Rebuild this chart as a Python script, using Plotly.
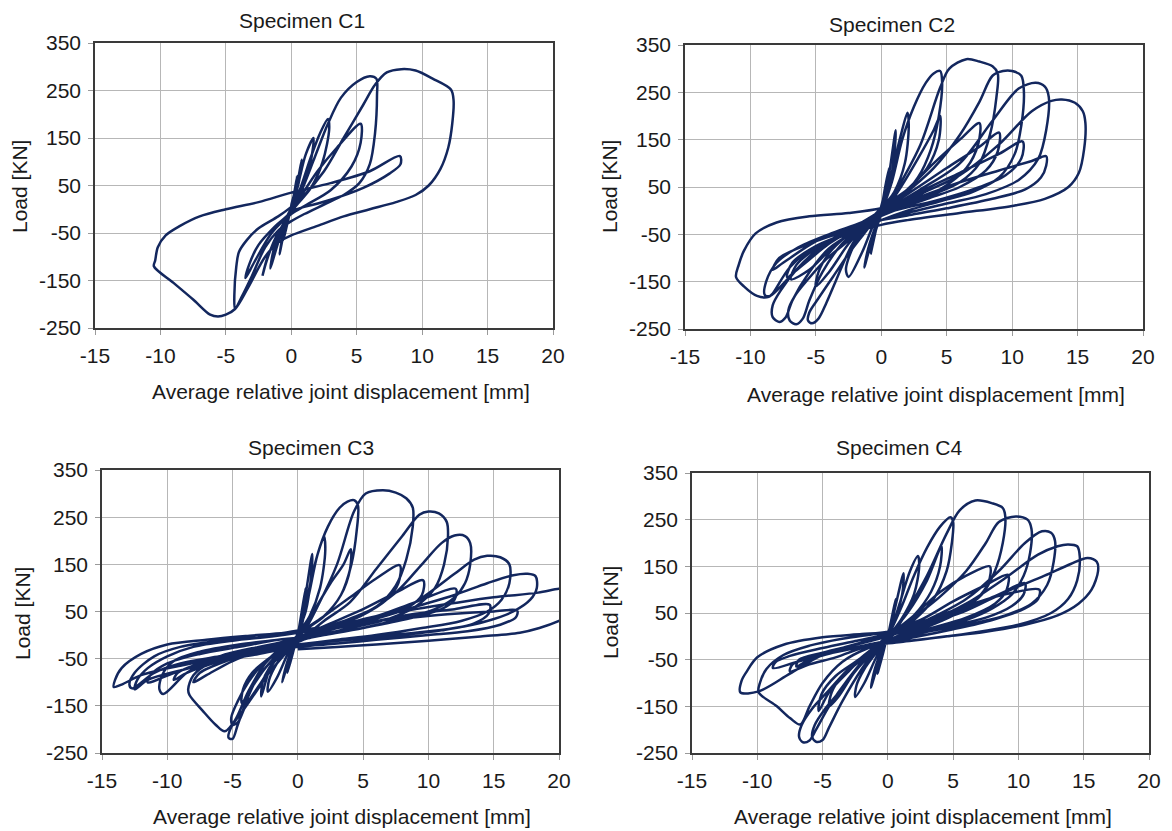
import plotly.graph_objects as go

# ---------------- data ----------------
x_ticks = [-15, -10, -5, 0, 5, 10, 15, 20]
y_ticks = [-250, -150, -50, 50, 150, 250, 350]
titles = ["Specimen C1", "Specimen C2", "Specimen C3", "Specimen C4"]
x_title = "Average relative joint displacement [mm]"
y_title = "Load [KN]"

# (displacement [mm], load [kN]) path of each hysteresis record
c1_xy = [
    (0, 0), (0.2, 30), (0.45, 70), (0.3, 40), (0, 5), (-0.3, -30), (-0.6, -65), (-0.4, -30), (0, 0),
    (0.4, 45), (0.8, 105), (0.6, 60), (0.1, 10), (-0.4, -30), (-0.9, -95), (-0.6, -50), (-0.1, -5),
    (0.5, 50), (1.1, 115), (1.7, 150), (1.4, 90), (0.6, 30), (-0.3, -20), (-1.0, -70), (-1.6, -125),
    (-1.3, -80), (-0.5, -25),
    (0.5, 30), (1.5, 110), (2.2, 160), (2.8, 190), (2.9, 170), (2.4, 100), (1.5, 45), (0.3, 5),
    (-0.8, -40), (-1.8, -100), (-2.2, -140), (-1.9, -110), (-1.2, -60), (-0.2, -15),
    (0.8, 30), (2.0, 80), (3.5, 130), (5.3, 180), (5.3, 140), (4.6, 90), (3.0, 40), (1.2, 10), (0, -10),
    (-1.5, -50), (-2.8, -110), (-3.5, -145), (-3.2, -115), (-2.5, -75), (-1.2, -35), (0, -5),
    (0.8, 40), (1.8, 110), (2.8, 180), (3.8, 235), (5.0, 268), (6.0, 280), (6.5, 275), (6.55, 240),
    (6.4, 160), (6.0, 95), (5.2, 55), (4.0, 30), (2.5, 10), (1.0, -10), (0, -25), (-1.0, -45),
    (-2.0, -80), (-3.0, -140), (-3.8, -185), (-4.3, -210), (-4.35, -180), (-4.2, -120), (-4.0, -90),
    (-3.4, -65), (-2.5, -40), (-1.0, -15), (0, 5),
    (1.0, 30), (2.5, 80), (4.0, 150), (5.5, 220), (6.4, 262), (7.3, 288), (8.4, 295), (9.5, 292),
    (10.8, 275), (12.2, 252), (12.4, 230), (12.3, 180), (12.0, 130), (11.4, 85), (10.5, 50), (9.5, 30),
    (8.0, 15), (6.0, 0), (4.0, -15), (2.0, -35), (0, -55), (-1.0, -70), (-2.0, -100), (-3.3, -165),
    (-4.3, -210), (-5.0, -222), (-5.6, -226), (-6.2, -222), (-7.5, -190), (-9.0, -155), (-10.5, -120),
    (-10.4, -108), (-10.2, -80), (-9.6, -55), (-8.5, -35), (-7.0, -15), (-5.0, 0), (-2.5, 15), (0, 35),
    (3.0, 55), (6.0, 80), (8.3, 112), (8.35, 95), (7.5, 75), (5.5, 45), (3.0, 20), (1.0, 5), (0, 0),
]

c2_xy = [
    (0, 0), (0.3, 50), (0.6, 90), (0.4, 50), (0, 10), (-0.4, -40), (-0.8, -90), (-0.5, -50), (0, -5),
    (0.5, 60), (1.1, 170), (1.0, 120), (0.6, 50), (0, 5), (-0.6, -50), (-1.3, -120), (-1.0, -80),
    (-0.4, -30), (0.2, 10),
    (0.8, 80), (1.5, 160), (2.0, 207), (2.1, 180), (1.8, 100), (1.0, 40), (0.2, 10), (-0.6, -30),
    (-1.5, -90), (-2.5, -140), (-2.7, -125), (-2.2, -80), (-1.2, -40), (0, 0),
    (0.8, 60), (1.6, 150), (2.5, 220), (3.4, 270), (4.0, 290), (4.5, 295), (4.65, 270), (4.4, 200),
    (3.8, 130), (2.8, 70), (1.5, 30), (0, 5), (-1.0, -25), (-2.2, -70), (-3.5, -150), (-4.2, -195),
    (-4.8, -228), (-5.3, -238), (-5.6, -232), (-5.5, -215), (-4.8, -185), (-3.7, -140), (-2.6, -95),
    (-1.5, -55), (-0.5, -20), (0.5, 10),
    (1.5, 50), (2.8, 110), (4.0, 170), (4.5, 200), (4.4, 150), (3.5, 90), (2.0, 45), (0.5, 10),
    (-1.0, -25), (-2.5, -70), (-4.0, -130), (-5.0, -160), (-4.8, -130), (-4.0, -90), (-2.5, -50),
    (-0.5, -10), (0.5, 15),
    (1.5, 60), (3.0, 140), (4.5, 260), (5.2, 300), (6.5, 320), (7.5, 315), (8.5, 305), (8.9, 290),
    (8.8, 240), (8.3, 160), (7.5, 100), (6.0, 60), (4.0, 35), (2.0, 15), (0, -10), (-1.5, -35),
    (-3.0, -70), (-4.5, -130), (-5.5, -190), (-6.0, -228), (-6.5, -240), (-7.0, -232), (-7.1, -210),
    (-6.6, -180), (-5.6, -145), (-4.3, -105), (-2.8, -70), (-1.5, -40), (-0.5, -15), (0, 5),
    (2.0, 45), (4.0, 100), (6.0, 150), (7.5, 185), (7.4, 140), (6.5, 90), (4.5, 45), (2.0, 15),
    (0, -10), (-2.0, -40), (-4.0, -85), (-5.5, -125), (-6.9, -145), (-6.5, -115), (-5.0, -80),
    (-3.0, -50), (-1.0, -20), (0.5, 5),
    (2.0, 40), (4.0, 90), (6.0, 160), (7.5, 230), (8.5, 285), (9.3, 295), (10.0, 295), (10.7, 285),
    (10.9, 250), (10.7, 180), (10.2, 120), (9.0, 70), (7.0, 40), (4.5, 20), (2.0, 0), (0, -20),
    (-2.0, -45), (-4.0, -80), (-5.5, -130), (-6.8, -190), (-7.3, -225), (-7.8, -235), (-8.3, -225),
    (-8.3, -200), (-7.6, -165), (-6.5, -125), (-5.0, -85), (-3.5, -55), (-1.8, -30), (0, 0),
    (2.0, 35), (5.0, 90), (7.5, 135), (9.0, 165), (8.9, 125), (8.0, 85), (6.0, 50), (3.5, 25), (1.0, 0),
    (-1.5, -30), (-4.0, -70), (-6.0, -115), (-7.2, -140), (-6.8, -110), (-5.0, -75), (-2.5, -45), (0, -5),
    (3.0, 45), (6.0, 100), (8.5, 190), (10.5, 258), (11.8, 270), (12.5, 262), (12.8, 240), (12.6, 170),
    (12.0, 110), (10.5, 65), (8.0, 35), (5.0, 15), (2.0, -5), (0, -20), (-2.5, -45), (-5.0, -85),
    (-7.0, -140), (-8.5, -180), (-8.9, -178), (-8.8, -150), (-8.0, -110), (-6.5, -80), (-4.0, -50),
    (-1.5, -25), (0.5, 0),
    (3.0, 40), (6.0, 80), (9.0, 120), (10.8, 146), (10.7, 110), (9.5, 75), (7.0, 45), (4.0, 20), (1.0, 0),
    (-2.0, -30), (-5.0, -65), (-7.5, -110), (-8.3, -125), (-7.8, -100), (-5.5, -70), (-3.0, -45), (0, -10),
    (3.0, 35), (6.0, 75), (9.0, 140), (11.5, 210), (13.0, 232), (13.8, 235), (14.8, 228), (15.4, 210),
    (15.6, 185), (15.5, 130), (15.1, 80), (14.3, 50), (12.5, 25), (10.0, 10), (6.0, -5), (2.0, -20),
    (0, -30), (-2.5, -50), (-5.0, -75), (-7.0, -120), (-8.3, -175), (-8.6, -182), (-9.5, -180),
    (-10.5, -160), (-11.1, -140), (-10.9, -115), (-10.5, -85), (-9.6, -48), (-8.0, -25), (-5.5, -12),
    (-2.5, -5), (0, 5),
    (3.0, 30), (6.0, 60), (9.0, 85), (11.5, 105), (12.6, 115), (12.6, 95), (12.2, 70), (11.0, 45),
    (8.5, 25), (5.0, 5), (2.0, -10), (0, -20),
]

c3_xy = [
    (0, 0), (0.3, 50), (0.6, 100), (0.4, 50), (0, 5), (-0.4, -40), (-0.8, -80), (-0.5, -40), (0, 0),
    (0.5, 70), (1.1, 172), (1.0, 120), (0.6, 50), (0, 5), (-0.6, -45), (-1.2, -100), (-0.9, -65),
    (-0.3, -20), (0.2, 10),
    (0.8, 90), (1.5, 170), (2.0, 209), (2.1, 180), (1.7, 100), (0.9, 40), (0.2, 10), (-0.7, -35),
    (-1.6, -90), (-2.3, -120), (-2.2, -95), (-1.6, -60), (-0.8, -30), (0, 0),
    (0.8, 80), (1.5, 170), (2.3, 230), (3.2, 270), (3.8, 283), (4.3, 286), (4.6, 275), (4.5, 220),
    (4.1, 150), (3.3, 85), (2.0, 40), (0.5, 10), (-0.5, -15), (-1.5, -45), (-2.8, -100), (-4.0, -150),
    (-4.6, -185), (-5.0, -190), (-5.1, -175), (-4.6, -140), (-3.8, -100), (-2.8, -65), (-1.5, -35), (0, 0),
    (1.2, 50), (2.5, 110), (3.5, 150), (4.05, 182), (4.0, 140), (3.3, 85), (2.0, 40), (0.5, 10),
    (-1.0, -25), (-2.5, -70), (-3.5, -110), (-4.3, -144), (-4.2, -115), (-3.5, -80), (-2.0, -45),
    (-0.5, -15), (0.5, 10),
    (1.5, 60), (3.0, 150), (4.3, 262), (5.2, 300), (6.5, 307), (7.5, 302), (8.3, 290), (8.8, 270),
    (8.8, 230), (8.3, 160), (7.5, 105), (6.0, 60), (4.0, 35), (2.0, 15), (0, -5), (-1.2, -25),
    (-2.5, -60), (-3.8, -130), (-4.6, -190), (-5.0, -220), (-5.3, -218), (-5.1, -195), (-4.2, -160),
    (-3.2, -120), (-2.2, -80), (-1.0, -40), (0, 0),
    (2.0, 40), (4.0, 80), (6.0, 120), (7.8, 148), (7.7, 110), (6.8, 75), (4.8, 40), (2.5, 15),
    (0.5, -5), (-1.0, -25), (-2.0, -60), (-2.8, -130), (-2.7, -100), (-2.2, -70), (-1.2, -40), (0, -15),
    (2.0, 30), (4.0, 70), (6.0, 140), (8.0, 210), (9.3, 255), (10.0, 262), (10.8, 258), (11.4, 240),
    (11.5, 210), (11.2, 150), (10.5, 100), (9.0, 60), (7.0, 35), (4.0, 15), (1.0, -5), (-1.0, -25),
    (-2.5, -60), (-3.8, -120), (-4.8, -180), (-5.6, -204), (-6.3, -190), (-7.3, -160), (-8.3, -127),
    (-8.4, -115), (-8.0, -85), (-6.5, -55), (-4.5, -35), (-2.0, -20), (0, -5),
    (2.5, 25), (5.0, 55), (7.5, 90), (9.6, 116), (9.5, 85), (8.5, 60), (6.0, 35), (3.0, 15), (0, -10),
    (-2.5, -30), (-5.0, -55), (-7.0, -85), (-8.0, -100), (-7.5, -80), (-5.5, -55), (-3.0, -35), (0, -15),
    (2.5, 20), (5.0, 45), (7.5, 90), (9.5, 150), (11.0, 195), (12.0, 211), (12.8, 210), (13.2, 195),
    (13.2, 150), (12.8, 110), (12.0, 80), (10.5, 55), (8.0, 35), (5.0, 15), (2.0, 0), (0, -10),
    (-3.0, -25), (-6.0, -45), (-8.5, -80), (-10.3, -125), (-10.6, -115), (-10.4, -85), (-9.5, -55),
    (-7.5, -35), (-4.5, -20), (-1.5, -10), (0, -5),
    (3.0, 20), (6.0, 40), (9.0, 70), (12.1, 98), (12.0, 75), (11.0, 55), (8.5, 35), (5.0, 15), (2.0, 0),
    (0, -10), (-3.0, -30), (-6.0, -55), (-8.5, -80), (-9.5, -95), (-9.2, -80), (-7.5, -60), (-4.5, -40),
    (-1.5, -20), (0, -10),
    (3.0, 15), (6.0, 35), (9.0, 70), (12.0, 130), (13.5, 160), (14.5, 168), (15.5, 165), (16.2, 150),
    (16.2, 110), (15.6, 75), (14.5, 50), (12.5, 30), (9.5, 15), (6.0, 0), (3.0, -10), (0, -20),
    (-3.0, -30), (-6.0, -45), (-9.0, -60), (-11.0, -80), (-12.7, -113), (-12.9, -105), (-12.5, -80),
    (-11.0, -45), (-9.0, -25), (-6.0, -12), (-3.0, -5), (0, 5),
    (3.0, 15), (6.0, 30), (9.0, 45), (12.0, 55), (14.7, 64), (14.6, 45), (13.5, 25), (11.0, 10),
    (8.0, 0), (4.0, -10), (0, -20), (-3.0, -35), (-6.0, -55), (-9.0, -75), (-11.5, -100), (-11.3, -85),
    (-10.0, -60), (-7.5, -40), (-4.5, -25), (-1.5, -10), (0, -5),
    (3.0, 15), (6.0, 35), (9.0, 60), (12.0, 85), (14.5, 110), (16.5, 127), (17.6, 130), (18.2, 125),
    (18.3, 100), (17.8, 75), (16.5, 50), (14.5, 30), (12.0, 15), (9.0, 5), (5.0, -5), (2.0, -15),
    (0, -22), (-3.0, -35), (-6.0, -50), (-9.0, -65), (-12.0, -85), (-13.5, -105), (-14.1, -110),
    (-14.0, -95), (-13.5, -70), (-12.0, -40), (-10.0, -20), (-7.0, -10), (-4.0, -2), (-1.0, 5), (0, 10),
    (3.0, 20), (6.0, 30), (9.0, 38), (12.0, 45), (15.0, 50), (16.8, 52), (16.7, 38), (15.5, 22),
    (13.0, 8), (10.0, 0), (6.0, -10), (3.0, -18), (0, -25), (-3.0, -40), (-6.0, -55), (-9.0, -75),
    (-11.5, -95), (-12.5, -115), (-12.3, -95), (-11.5, -70), (-10.0, -45), (-8.0, -25), (-5.0, -12),
    (-2.0, -3), (0, 5),
    (3.0, 20), (6.0, 40), (9.0, 55), (12.0, 68), (15.0, 80), (18.4, 90), (20.0, 98), (21.0, 100),
    (21.5, 75), (21.0, 45), (20.0, 30), (18.5, 15), (17.0, 5), (14.0, -3), (10.0, -12), (6.0, -20),
    (3.0, -25), (0, -30),
]

c4_xy = [
    (0, 0), (0.3, 40), (0.6, 80), (0.4, 40), (0, 5), (-0.4, -40), (-0.8, -80), (-0.5, -40), (0, 0),
    (0.5, 55), (1.2, 135), (1.1, 90), (0.6, 40), (0, 5), (-0.6, -45), (-1.3, -110), (-1.0, -70),
    (-0.4, -25), (0.2, 10),
    (0.9, 70), (1.7, 140), (2.3, 172), (2.4, 150), (2.0, 90), (1.0, 35), (0.2, 5), (-0.8, -40),
    (-1.8, -100), (-2.5, -130), (-2.4, -105), (-1.8, -70), (-0.9, -35), (0, 0),
    (1.0, 60), (2.0, 130), (3.0, 190), (4.0, 235), (4.8, 255), (5.0, 245), (4.9, 200), (4.5, 140),
    (3.5, 80), (2.0, 35), (0.5, 5), (-0.8, -25), (-2.0, -70), (-3.5, -140), (-4.5, -195), (-5.0, -222),
    (-5.5, -226), (-5.8, -215), (-5.6, -190), (-4.8, -155), (-3.6, -115), (-2.5, -75), (-1.2, -35), (0, 0),
    (1.5, 50), (3.0, 120), (4.1, 193), (4.0, 150), (3.3, 95), (2.0, 45), (0.5, 10), (-1.0, -30),
    (-2.5, -75), (-3.8, -130), (-4.5, -150), (-4.3, -120), (-3.5, -85), (-2.0, -50), (-0.5, -15), (0.5, 10),
    (1.5, 55), (3.0, 130), (4.5, 220), (5.5, 270), (6.7, 291), (8.0, 285), (8.8, 275), (9.0, 255),
    (8.8, 200), (8.2, 140), (7.2, 90), (5.5, 55), (3.5, 30), (1.5, 10), (0, -10), (-1.5, -40),
    (-3.0, -90), (-4.5, -150), (-5.5, -200), (-6.0, -223), (-6.5, -227), (-6.8, -215), (-6.6, -190),
    (-5.8, -155), (-4.5, -115), (-3.2, -75), (-1.8, -40), (0, 0),
    (2.0, 45), (4.0, 95), (6.0, 130), (7.8, 150), (7.7, 115), (6.8, 80), (5.0, 45), (2.5, 15),
    (0.5, -5), (-1.5, -35), (-3.0, -75), (-4.5, -120), (-5.3, -160), (-5.1, -125), (-4.0, -85),
    (-2.5, -55), (-1.0, -25), (0.5, 5),
    (2.0, 40), (4.0, 85), (6.0, 140), (7.5, 200), (8.5, 245), (9.8, 257), (10.7, 250), (11.0, 230),
    (10.9, 180), (10.4, 130), (9.5, 90), (8.0, 60), (6.0, 35), (3.5, 15), (1.0, -5), (-1.5, -25),
    (-3.5, -55), (-5.0, -100), (-6.0, -150), (-6.7, -189), (-7.5, -175), (-8.5, -150), (-9.9, -120),
    (-9.8, -100), (-9.3, -70), (-8.0, -40), (-6.0, -20), (-3.5, -5), (-1.0, 5), (0, 10),
    (2.5, 35), (5.0, 75), (7.5, 110), (9.2, 132), (9.1, 100), (8.2, 70), (6.0, 40), (3.0, 15),
    (0.5, -5), (-2.0, -25), (-4.0, -45), (-6.0, -60), (-7.5, -75), (-7.3, -60), (-6.0, -45),
    (-3.5, -25), (-1.0, -5), (0.5, 5),
    (3.0, 35), (6.0, 80), (8.5, 140), (10.5, 200), (11.8, 225), (12.5, 222), (12.8, 205), (12.7, 160),
    (12.2, 110), (11.0, 70), (9.0, 45), (6.0, 25), (3.0, 10), (0, -10), (-2.5, -25), (-5.0, -40),
    (-7.0, -55), (-8.8, -68), (-8.6, -55), (-7.5, -42), (-5.0, -25), (-2.5, -10), (0, 5),
    (3.0, 30), (6.0, 60), (8.5, 90), (10.5, 114), (10.4, 90), (9.5, 65), (7.5, 40), (4.5, 20),
    (1.5, 0), (-1.0, -15), (-3.5, -30), (-6.0, -50), (-7.0, -65), (-6.8, -50), (-5.0, -35),
    (-2.5, -18), (0, 0),
    (3.0, 30), (6.0, 70), (9.0, 125), (11.5, 175), (13.0, 193), (13.8, 197), (14.5, 193), (14.7, 170),
    (14.5, 120), (13.8, 80), (12.5, 50), (10.0, 25), (7.0, 10), (4.0, -2), (1.0, -12), (-2.0, -22),
    (-5.0, -40), (-7.5, -80), (-9.9, -118), (-11.3, -120), (-11.2, -95), (-10.8, -75), (-10.0, -45),
    (-8.0, -18), (-5.0, -2), (-2.0, 5), (0, 10),
    (3.0, 35), (6.0, 65), (9.0, 90), (11.6, 100), (11.5, 80), (10.5, 60), (8.0, 35), (5.0, 15),
    (2.0, -2), (0, -12),
    (3.0, 25), (6.0, 55), (9.0, 95), (12.0, 130), (14.0, 155), (15.3, 168), (16.0, 160), (16.1, 140),
    (15.6, 100), (14.6, 70), (13.0, 45), (10.5, 25), (7.5, 10), (4.5, 0), (1.5, -10), (0, -15),
]

series = [c1_xy, c2_xy, c3_xy, c4_xy]

# ---------------- layout (pixel geometry of the reference) ----------------
PAGE_OFF = 8                      # default body margin of the html page
W, H = 1172 - PAGE_OFF, 831 - PAGE_OFF
LINE = "#13275e"
TXT = "#1a1a1a"
FONT = "Liberation Sans, Arial, sans-serif"
FS = 21

# positions below are in window pixels
frames = [(95, 553, 43, 328), (685, 1143, 45, 329), (102, 559, 470, 753), (692, 1149, 473, 753)]
title_pos = [(302, 21), (892, 24), (311, 447), (899, 447)]
xtitle_pos = [(341, 391), (936, 394), (342, 816), (923, 816)]
ytitle_pos = [(19, 187), (609, 187), (22, 614), (610, 613)]

def px(x):
    return (x - PAGE_OFF) / W

def py(y):
    return 1 - (y - PAGE_OFF) / H

fig = go.Figure()
annotations = []
for i, pts in enumerate(series):
    n = "" if i == 0 else str(i + 1)
    xs = [p[0] for p in pts]
    ys = [p[1] for p in pts]
    fig.add_trace(go.Scatter(
        x=xs, y=ys, mode="lines", xaxis="x" + n, yaxis="y" + n,
        line=dict(color=LINE, width=2.5, shape="spline", smoothing=0.9),
        showlegend=False, hoverinfo="skip",
    ))
    l, r, t, b = frames[i]
    common = dict(
        showgrid=True, gridcolor="#b7b7b7", gridwidth=1, zeroline=False,
        showline=True, linecolor="#3a3a3a", linewidth=1.5, mirror=True,
        ticks="outside", ticklen=5, tickcolor="#9a9a9a", tickwidth=1,
        tickfont=dict(family=FONT, size=FS, color=TXT), fixedrange=True,
        automargin=False, tickmode="array",
    )
    fig.layout["xaxis" + n] = dict(
        domain=[px(l), px(r)], range=[-15, 20], tickvals=x_ticks,
        ticktext=[str(v) for v in x_ticks],
        anchor="y" + n, ticklabelstandoff=3, **common)
    fig.layout["yaxis" + n] = dict(
        domain=[py(b), py(t)], range=[-250, 350], tickvals=y_ticks,
        ticktext=[str(v) for v in y_ticks],
        anchor="x" + n, ticklabelstandoff=3, **common)

    tx, ty = title_pos[i]
    annotations.append(dict(text=titles[i], x=px(tx), y=py(ty), xref="paper", yref="paper",
                            showarrow=False, xanchor="center", yanchor="middle",
                            font=dict(family=FONT, size=FS, color=TXT)))
    ax_, ay_ = xtitle_pos[i]
    annotations.append(dict(text=x_title, x=px(ax_), y=py(ay_), xref="paper", yref="paper",
                            showarrow=False, xanchor="center", yanchor="middle",
                            font=dict(family=FONT, size=FS, color=TXT)))
    yx, yy = ytitle_pos[i]
    annotations.append(dict(text=y_title, x=px(yx), y=py(yy), xref="paper", yref="paper",
                            showarrow=False, xanchor="center", yanchor="middle", textangle=-90,
                            font=dict(family=FONT, size=FS, color=TXT)))

fig.update_layout(
    width=W, height=H, margin=dict(l=0, r=0, t=0, b=0, autoexpand=False),
    paper_bgcolor="white", plot_bgcolor="white",
    annotations=annotations,
)

fig.write_html("out.html")
